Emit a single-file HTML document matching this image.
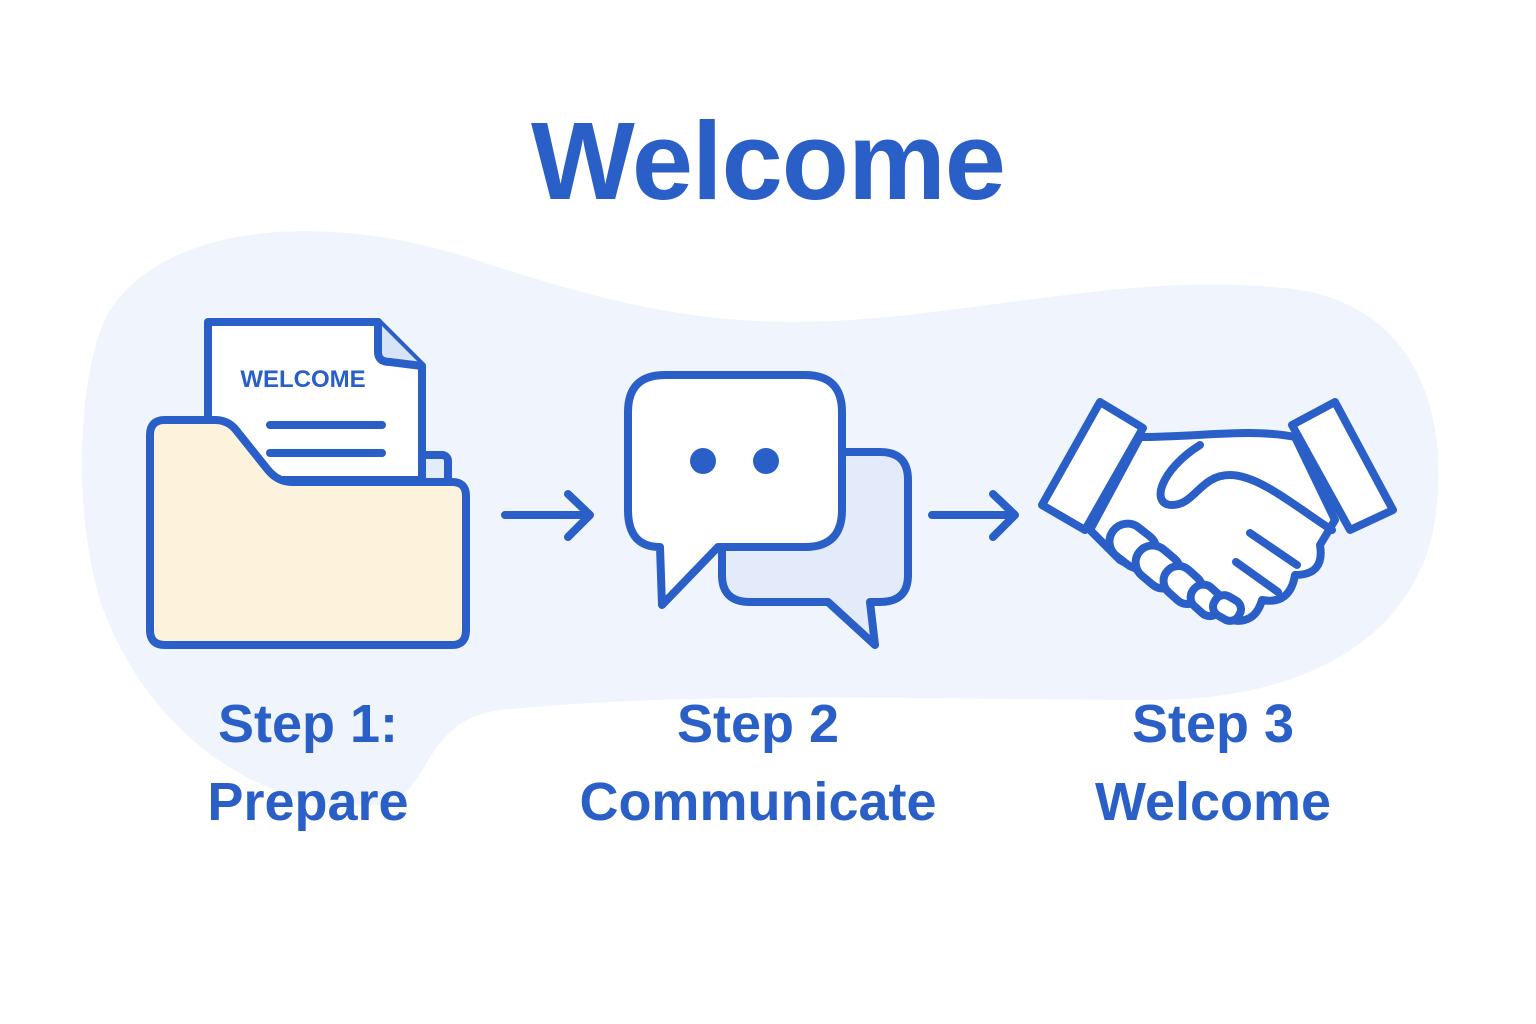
<!DOCTYPE html>
<html><head><style>
body{margin:0;width:1536px;height:1024px;background:#fff;overflow:hidden;font-family:"Liberation Sans",sans-serif}
.t{position:absolute;color:#2a5fc8;font-weight:bold;text-align:center}
</style></head><body>
<svg width="1536" height="1024" style="position:absolute;left:0;top:0">
<path d="M110,310 C170,220 330,215 460,255 C600,300 700,330 850,320 C1000,310 1150,270 1300,290 C1420,310 1450,420 1435,520 C1420,620 1330,700 1150,700 C950,700 700,690 500,710 C420,720 430,800 380,805 C250,815 140,720 100,600 C70,500 80,360 110,310 Z" fill="#f0f5fd"/>
<g stroke="#2a5fc8" stroke-width="8" stroke-linejoin="round" stroke-linecap="round" fill="none">
<!-- folder -->
<rect x="420" y="455" width="28" height="40" rx="6" fill="#e3ecfb"/>
<path d="M208,322 L378,322 L422,366 L422,480 L208,480 Z" fill="#fff"/>
<path d="M378,322 L378,352 Q378,362 390,362 L422,366" fill="#d6e3f8"/>
<line x1="270" y1="425" x2="382" y2="425"/><line x1="270" y1="453" x2="382" y2="453"/>
<path d="M165,420 L215,420 Q228,420 236,430 L268,470 Q278,482 292,482 L452,482 Q466,482 466,496 L466,630 Q466,645 452,645 L165,645 Q150,645 150,630 L150,435 Q150,420 165,420 Z" fill="#fdf3dd"/>
<!-- arrows -->
<path d="M505,515 L588,515 M568,494 L590,515 L568,537"/>
<path d="M932,515 L1013,515 M993,494 L1015,515 L993,537"/>
<!-- chat -->
<path d="M755,452 L880,452 Q908,452 908,480 L908,575 Q908,602 880,602 L870,602 L875,645 L828,602 L750,602 Q722,602 722,575 L722,480 Q722,452 755,452 Z" fill="#e3ebfb"/>
<path d="M665,375 L805,375 Q842,375 842,412 L842,510 Q842,547 805,547 L718,547 L662,605 L660,547 Q628,547 628,510 L628,412 Q628,375 665,375 Z" fill="#fff"/>
<!-- handshake -->
<path d="M1140,437 C1200,437 1250,428 1295,437 L1335,520 L1320,545 Q1325,575 1295,575 Q1290,605 1262,600 Q1255,625 1230,620 L1120,560 L1090,530 Z" fill="#fff"/>
<path d="M1042,505 L1100,402 L1143,428 L1085,530 Z" fill="#fff"/>
<path d="M1292,425 L1335,402 L1393,510 L1350,530 Z" fill="#fff"/>
<path d="M1200,445 C1160,470 1150,505 1172,505 C1195,505 1200,475 1230,475 C1260,475 1300,510 1332,530"/>
<path d="M1250,533 L1297,565 M1236,562 L1278,592"/>
<rect x="1108" y="528" width="50" height="36" rx="18" transform="rotate(38 1133 546)" fill="#fff"/>
<rect x="1134" y="550" width="48" height="34" rx="17" transform="rotate(40 1158 567)" fill="#fff"/>
<rect x="1162" y="570" width="42" height="30" rx="15" transform="rotate(42 1183 585)" fill="#fff"/>
<rect x="1190" y="588" width="34" height="25" rx="12" transform="rotate(42 1207 600)" fill="#fff"/>
<rect x="1213" y="597" width="28" height="22" rx="10" transform="rotate(30 1227 608)" fill="#fff"/>
</g>
<circle cx="703" cy="461" r="13" fill="#2a5fc8"/><circle cx="766" cy="461" r="13" fill="#2a5fc8"/>
<text x="303" y="387" text-anchor="middle" font-family="Liberation Sans" font-weight="bold" font-size="24" fill="#2a5fc8">WELCOME</text>
</svg>
<div class="t" style="left:458px;top:102px;width:620px;font-size:110px;line-height:120px;letter-spacing:-1px">Welcome</div>
<div class="t" style="left:108px;top:685px;width:400px;font-size:54px;line-height:78px">Step 1:<br>Prepare</div>
<div class="t" style="left:508px;top:685px;width:500px;font-size:54px;line-height:78px">Step 2<br>Communicate</div>
<div class="t" style="left:1013px;top:685px;width:400px;font-size:54px;line-height:78px">Step 3<br>Welcome</div>
</body></html>
